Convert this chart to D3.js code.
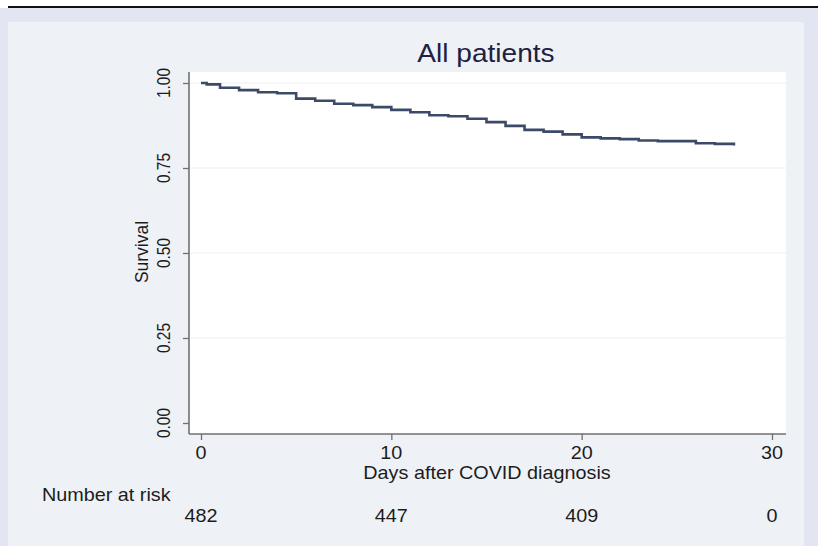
<!DOCTYPE html>
<html>
<head>
<meta charset="utf-8">
<script src="https://cdn.jsdelivr.net/npm/d3@7"></script>
<style>
  body { margin: 0; background: #ffffff; }
  svg { display: block; font-family: "Liberation Sans", Arial, sans-serif; }
</style>
</head>
<body>
<div id="km-chart"></div>
<script>
// Kaplan-Meier survival, all patients (step points)
const days     = [0, 0.3, 1, 2, 3, 4, 5, 6, 7, 8, 9, 10, 11, 12, 13, 14, 15, 16, 17, 18, 19, 20, 21, 22, 23, 24, 26, 27, 28];
const survival = [1.000, 0.996, 0.986, 0.979, 0.973, 0.970, 0.954, 0.948, 0.939, 0.935, 0.929, 0.921, 0.914, 0.905, 0.902, 0.895, 0.885, 0.874, 0.862, 0.857, 0.849, 0.840, 0.837, 0.835, 0.831, 0.829, 0.823, 0.821, 0.816];
const endDay = 28;

const xTicks = [0, 10, 20, 30];
const yTicks = [0, 0.25, 0.5, 0.75, 1];
const riskDays = [0, 10, 20, 30];
const atRisk = [482, 447, 409, 0];

const width = 818, height = 546;
const sx = 1.1; // the picture is a bit wide, so stretch the text

const svg = d3.select("#km-chart")
  .append("svg")
  .attr("width", width)
  .attr("height", height);

// backgrounds
svg.append("rect").attr("x", 0).attr("y", 8).attr("width", width).attr("height", height - 8).attr("fill", "#e2e6f3");
svg.append("rect").attr("x", 8).attr("y", 6).attr("width", width - 8).attr("height", 2).attr("fill", "#111111");
svg.append("rect").attr("x", 8).attr("y", 22).attr("width", 796).attr("height", height - 22).attr("fill", "#eef2f7");

const plot = {left: 189, right: 786, top: 72, bottom: 434};
svg.append("rect")
  .attr("x", plot.left).attr("y", plot.top)
  .attr("width", plot.right - plot.left).attr("height", plot.bottom - plot.top)
  .attr("fill", "#ffffff");

const x = d3.scaleLinear().domain([0, 30]).range([201, 772]);
const y = d3.scaleLinear().domain([0, 1]).range([423, 83]);

// gridlines
svg.append("g")
  .selectAll("line")
  .data(yTicks.filter(d => d > 0))
  .join("line")
  .attr("x1", plot.left).attr("x2", plot.right)
  .attr("y1", d => y(d)).attr("y2", d => y(d))
  .attr("stroke", "#eceff1")
  .attr("stroke-width", 1.2);

// survival curve
const pts = days.map((d, i) => [d, survival[i]]);
pts.push([endDay, survival[survival.length - 1]]);
const line = d3.line().x(d => x(d[0])).y(d => y(d[1])).curve(d3.curveStepAfter);
svg.append("path")
  .datum(pts)
  .attr("d", line)
  .attr("fill", "none")
  .attr("stroke", "#3c4a68")
  .attr("stroke-width", 2.6);

// axes
const axisColor = "#707070";
const yAxis = svg.append("g")
  .attr("transform", `translate(${plot.left},0)`)
  .call(d3.axisLeft(y).tickValues(yTicks).tickSize(6).tickFormat(""));
yAxis.select(".domain").remove();
yAxis.selectAll("line").attr("stroke", axisColor).attr("stroke-width", 1.3);

const xAxis = svg.append("g")
  .attr("transform", `translate(0,${plot.bottom})`)
  .call(d3.axisBottom(x).tickValues(xTicks).tickSize(6).tickFormat(""));
xAxis.select(".domain").remove();
xAxis.selectAll("line").attr("stroke", axisColor).attr("stroke-width", 1.3);

svg.append("line")
  .attr("x1", plot.left).attr("x2", plot.left)
  .attr("y1", plot.top).attr("y2", plot.bottom)
  .attr("stroke", axisColor).attr("stroke-width", 1.6);
svg.append("line")
  .attr("x1", plot.left).attr("x2", plot.right)
  .attr("y1", plot.bottom).attr("y2", plot.bottom)
  .attr("stroke", axisColor).attr("stroke-width", 1.6);

// y tick labels (rotated)
svg.append("g")
  .attr("font-size", 15.5)
  .attr("fill", "#1c1c1c")
  .attr("text-anchor", "middle")
  .selectAll("text")
  .data(yTicks)
  .join("text")
  .attr("transform", d => `translate(170,${y(d)}) scale(1.18,1) rotate(-90)`)
  .text(d => d3.format(".2f")(d));

// x tick labels
svg.append("g")
  .attr("font-size", 18)
  .attr("fill", "#1c1c1c")
  .attr("text-anchor", "middle")
  .selectAll("text")
  .data(xTicks)
  .join("text")
  .attr("transform", d => `translate(${x(d)},459) scale(${sx},1)`)
  .text(d => d);

// titles
svg.append("text")
  .attr("transform", `translate(486,62) scale(1.08,1)`)
  .attr("text-anchor", "middle")
  .attr("font-size", 26)
  .attr("fill", "#1e2140")
  .text("All patients");

svg.append("text")
  .attr("transform", `translate(487,479) scale(${sx},1)`)
  .attr("text-anchor", "middle")
  .attr("font-size", 18)
  .attr("fill", "#1c1c1c")
  .text("Days after COVID diagnosis");

svg.append("text")
  .attr("transform", `translate(148,252) scale(1.1,1) rotate(-90)`)
  .attr("text-anchor", "middle")
  .attr("font-size", 17.5)
  .attr("fill", "#1c1c1c")
  .text("Survival");

// number at risk table
svg.append("text")
  .attr("transform", `translate(42,501) scale(${sx},1)`)
  .attr("font-size", 18)
  .attr("fill", "#1c1c1c")
  .text("Number at risk");

svg.append("g")
  .attr("font-size", 18)
  .attr("fill", "#1c1c1c")
  .attr("text-anchor", "middle")
  .selectAll("text")
  .data(riskDays)
  .join("text")
  .attr("transform", (d, i) => `translate(${x(d)},522) scale(${sx},1)`)
  .text((d, i) => atRisk[i]);
</script>
</body>
</html>
